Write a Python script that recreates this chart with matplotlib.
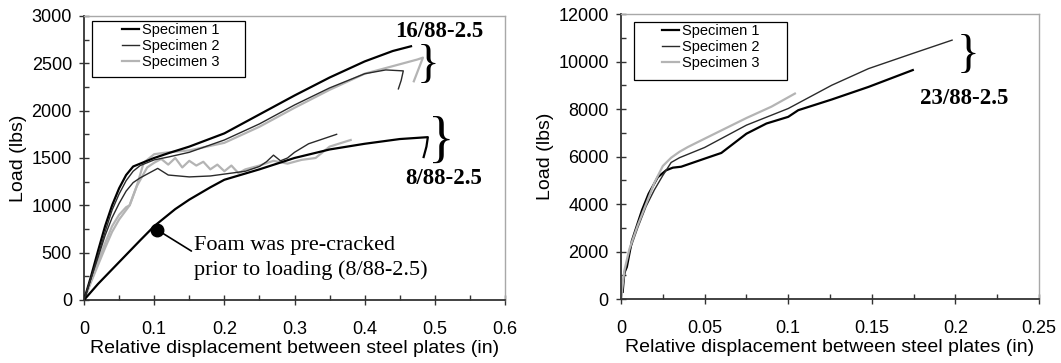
"""Load vs relative displacement for foam specimens (two panels)."""

import matplotlib

matplotlib.use("Agg")
import matplotlib.pyplot as plt
from matplotlib.patches import Rectangle
from matplotlib.ticker import FuncFormatter, MultipleLocator

# ---- left panel: 16/88-2.5 group ----
x16_s1 = [0, 0.01, 0.02, 0.03, 0.04, 0.05, 0.06, 0.07, 0.08, 0.1, 0.12, 0.15,
          0.2, 0.25, 0.3, 0.35, 0.4, 0.44, 0.466]
y16_s1 = [0, 250, 520, 780, 1000, 1180, 1320, 1410, 1440, 1500, 1550, 1620,
          1760, 1960, 2160, 2350, 2520, 2630, 2680]
x16_s2 = [0, 0.01, 0.02, 0.03, 0.04, 0.05, 0.06, 0.07, 0.08, 0.1, 0.12, 0.15,
          0.2, 0.25, 0.3, 0.35, 0.4, 0.43, 0.455, 0.452, 0.448]
y16_s2 = [0, 230, 470, 720, 950, 1120, 1260, 1360, 1420, 1480, 1510, 1560,
          1690, 1860, 2060, 2240, 2390, 2430, 2420, 2320, 2230]
x16_s3 = [0, 0.01, 0.02, 0.03, 0.04, 0.05, 0.06, 0.065, 0.075, 0.085, 0.1,
          0.12, 0.15, 0.2, 0.25, 0.3, 0.35, 0.4, 0.45, 0.475, 0.483, 0.47]
y16_s3 = [0, 200, 400, 600, 780, 900, 980, 1000, 1200, 1450, 1540, 1560,
          1580, 1660, 1830, 2030, 2220, 2390, 2490, 2540, 2560, 2310]

# ---- left panel: 8/88-2.5 group ----
x8_s1 = [0, 0.02, 0.05, 0.08, 0.1, 0.13, 0.15, 0.18, 0.2, 0.25, 0.3, 0.35,
         0.4, 0.45, 0.49, 0.488, 0.484]
y8_s1 = [0, 170, 400, 630, 780, 960, 1060, 1190, 1270, 1380, 1500, 1590,
         1650, 1700, 1720, 1620, 1510]
x8_s2 = [0, 0.01, 0.02, 0.03, 0.04, 0.05, 0.06, 0.07, 0.08, 0.09, 0.105, 0.12,
         0.15, 0.18, 0.2, 0.23, 0.25, 0.26, 0.27, 0.28, 0.29, 0.3, 0.32,
         0.34, 0.36]
y8_s2 = [0, 230, 450, 680, 870, 1020, 1150, 1240, 1290, 1330, 1390, 1320,
         1300, 1310, 1330, 1360, 1410, 1460, 1530, 1470, 1500, 1560, 1650,
         1700, 1750]
x8_s3 = [0, 0.01, 0.02, 0.03, 0.04, 0.05, 0.06, 0.065, 0.075, 0.09, 0.1,
         0.11, 0.12, 0.13, 0.14, 0.15, 0.16, 0.17, 0.18, 0.19, 0.2, 0.21,
         0.22, 0.23, 0.25, 0.27, 0.29, 0.31, 0.33, 0.35, 0.38]
y8_s3 = [0, 190, 370, 550, 720, 850, 950, 1000, 1200, 1400, 1450, 1490,
         1430, 1500, 1400, 1470, 1420, 1460, 1380, 1430, 1360, 1420, 1340,
         1380, 1420, 1470, 1440, 1480, 1500, 1620, 1690]

# ---- right panel: 23/88-2.5 group ----
x23_s1 = [0.001, 0.002, 0.0035, 0.0065, 0.0125, 0.0165, 0.022, 0.027, 0.031,
          0.036, 0.05, 0.06, 0.075, 0.087, 0.1, 0.106, 0.126, 0.148, 0.1745]
y23_s1 = [300, 1100, 1350, 2450, 3730, 4430, 5130, 5420, 5530, 5570, 5910,
          6150, 6960, 7390, 7670, 7950, 8400, 8930, 9640]
x23_s2 = [0, 0.002, 0.005, 0.01, 0.015, 0.02, 0.025, 0.03, 0.035, 0.05, 0.075,
          0.1, 0.126, 0.148, 0.1745, 0.198]
y23_s2 = [0, 1000, 2000, 3000, 3900, 4600, 5200, 5750, 5950, 6380, 7320,
          8020, 9000, 9700, 10340, 10900]
x23_s3 = [0, 0.002, 0.005, 0.01, 0.015, 0.02, 0.025, 0.03, 0.035, 0.04, 0.05,
          0.075, 0.09, 0.104]
y23_s3 = [0, 1200, 2100, 3100, 4000, 4900, 5600, 5950, 6200, 6400, 6750,
          7620, 8100, 8650]

labels = ["Specimen 1", "Specimen 2", "Specimen 3"]
colors = ["#000000", "#2a2a2a", "#b4b4b4"]
widths = [1.6, 1.0, 1.6]

plt.rcParams["font.family"] = ["Liberation Sans", "DejaVu Sans"]
SERIF = ["Liberation Serif", "DejaVu Serif"]


def style_axes(ax, xmax, xmaj, ymax, ymaj, leg_anchor, leg_box):
    ax.set_xlim(0, xmax)
    ax.set_ylim(0, ymax)
    ax.xaxis.set_major_locator(MultipleLocator(xmaj))
    ax.xaxis.set_minor_locator(MultipleLocator(xmaj / 2))
    ax.yaxis.set_major_locator(MultipleLocator(ymaj))
    ax.yaxis.set_minor_locator(MultipleLocator(ymaj / 2))
    fmt = FuncFormatter(lambda v, p: f"{v:g}")
    ax.xaxis.set_major_formatter(fmt)
    ax.yaxis.set_major_formatter(fmt)
    ax.tick_params(which="major", direction="inout", length=6.5, width=1.0,
                   labelsize=13, color="#333333")
    ax.tick_params(axis="x", which="major", pad=12)
    ax.tick_params(axis="y", which="major", pad=5.5)
    ax.tick_params(which="minor", direction="in", length=3.6, width=1.0,
                   color="#333333")
    for side in ("left", "bottom"):
        ax.spines[side].set_color("#333333")
        ax.spines[side].set_linewidth(1.3)
    for side in ("top", "right"):
        ax.spines[side].set_color("#a8a8a8")
        ax.spines[side].set_linewidth(1.0)
    ax.set_xlabel("Relative displacement between steel plates (in)",
                  fontsize=14, labelpad=1)
    ax.set_ylabel("Load (lbs)", fontsize=14, labelpad=3)
    ax.legend(loc="upper left", bbox_to_anchor=leg_anchor, fontsize=10.5,
              frameon=False, handlelength=1.2, handletextpad=0.2,
              labelspacing=0.15, borderpad=0, borderaxespad=0)
    ax.add_patch(Rectangle(leg_box[:2], leg_box[2], leg_box[3],
                           transform=ax.transAxes, fill=False,
                           edgecolor="black", lw=0.9, zorder=5))


fig = plt.figure(figsize=(10.61, 3.63), dpi=100)
ax1 = fig.add_axes([0.0792, 0.1736, 0.3968, 0.7824])
ax2 = fig.add_axes([0.5853, 0.1763, 0.394, 0.7851])

# left panel
for xs, ys, lab, c, lw in zip([x16_s1, x16_s2, x16_s3],
                              [y16_s1, y16_s2, y16_s3], labels, colors, widths):
    ax1.plot(xs, ys, color=c, lw=lw, label=lab, zorder=3 if c != colors[2] else 2)
for xs, ys, c, lw in zip([x8_s1, x8_s2, x8_s3], [y8_s1, y8_s2, y8_s3],
                         colors, widths):
    ax1.plot(xs, ys, color=c, lw=lw, zorder=3 if c != colors[2] else 2)
style_axes(ax1, 0.6, 0.1, 3000, 500, (0.0895, 0.975),
           (0.019, 0.785, 0.363, 0.197))

ax1.plot([0.104], [742], "o", color="black", ms=9, zorder=4)
ax1.annotate("Foam was pre-cracked\nprior to loading (8/88-2.5)",
             xy=(0.104, 742), xytext=(0.157, 444), fontsize=16,
             family=SERIF, ha="left", va="center", linespacing=1.3,
             arrowprops=dict(arrowstyle="-", color="black", lw=1.2,
                             shrinkA=0, shrinkB=0,
                             relpos=(0.0, 0.62)))
ax1.text(0.506, 2841, "16/88-2.5", fontsize=16.5, fontweight="bold",
         family=SERIF, ha="center", va="center")
ax1.text(0.512, 1278, "8/88-2.5", fontsize=16.5, fontweight="bold",
         family=SERIF, ha="center", va="center")
ax1.text(0.474, 2475, "}", fontsize=34, family=SERIF, ha="left", va="center")
ax1.text(0.490, 1660, "}", fontsize=40, family=SERIF, ha="left", va="center")

# right panel
for xs, ys, lab, c, lw in zip([x23_s1, x23_s2, x23_s3],
                              [y23_s1, y23_s2, y23_s3], labels, colors, widths):
    ax2.plot(xs, ys, color=c, lw=lw, label=lab)
style_axes(ax2, 0.25, 0.05, 12000, 2000, (0.098, 0.965),
           (0.031, 0.768, 0.366, 0.204))
ax2.text(0.2005, 10250, "}", fontsize=34, family=SERIF, ha="left", va="center")
ax2.text(0.2055, 8442, "23/88-2.5", fontsize=16.5, fontweight="bold",
         family=SERIF, ha="center", va="center")

fig.savefig("out.png", dpi=100)
